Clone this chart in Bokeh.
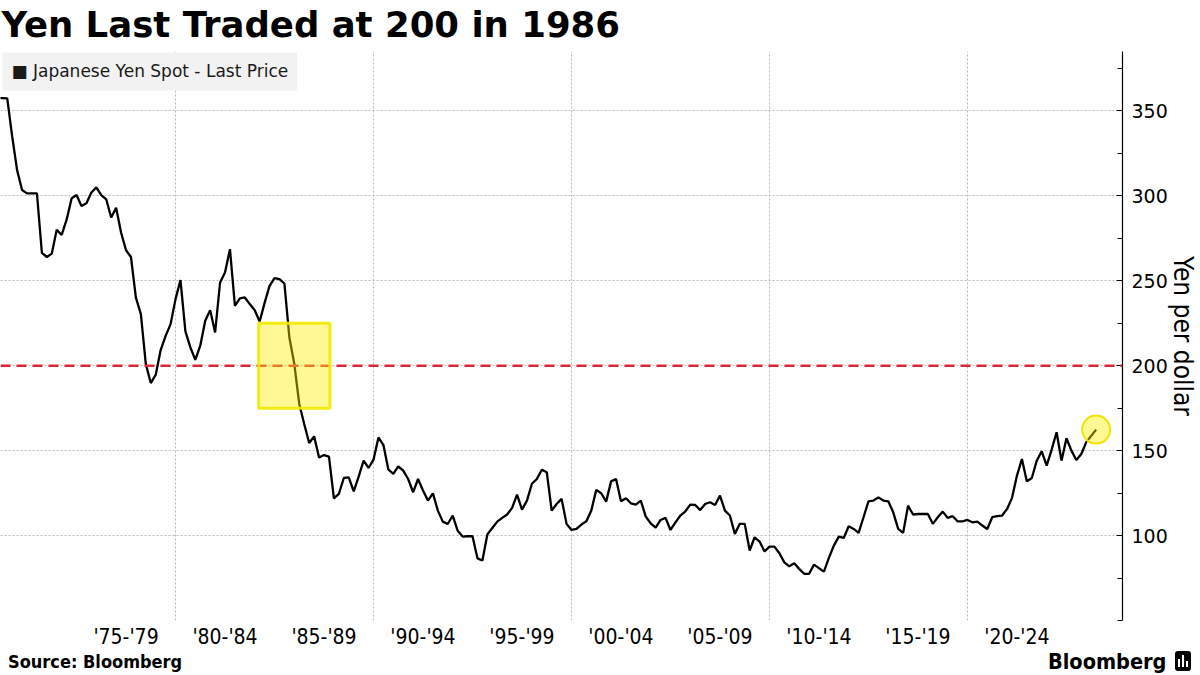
from bokeh.plotting import figure
from bokeh.layouts import column
from bokeh.models import FixedTicker, Span, BoxAnnotation, Label, Range1d, Div
from bokeh.core.properties import value
from bokeh.embed import file_html
from bokeh.resources import INLINE

# USD/JPY, quarter-end closes starting with Q4 1970 (yen per dollar)
FIRST_QUARTER_END = 1971.0
yen_1970s = [357.6,
             357.5, 357.4, 335.0, 315.0,
             303.5, 301.5, 301.5, 301.5,
             266.5, 264.0, 266.0, 280.0,
             277.0, 286.0, 298.5, 300.5,
             294.0, 295.7, 302.0, 305.0,
             300.4, 298.0, 287.3, 293.0,
             278.4, 268.0, 264.0, 240.0,
             230.4, 201.0, 189.8, 194.7,
             209.2, 217.6, 224.5, 239.2]
yen_1980s = [250.4, 220.2, 210.8, 203.5,
             211.8, 226.5, 232.7, 219.6,
             249.0, 254.9, 268.6, 235.3,
             239.6, 240.2, 236.3, 232.7,
             226.0, 237.0, 247.0, 251.6,
             251.0, 248.4, 216.7, 201.0,
             177.5, 165.7, 154.5, 158.4,
             146.0, 147.4, 146.5, 121.9,
             124.5, 133.9, 134.3, 126.0,
             134.7, 144.1, 139.8, 144.7]
yen_1990s = [157.8, 153.3, 138.9, 136.3,
             140.8, 138.2, 133.3, 125.5,
             133.3, 126.5, 120.6, 124.9,
             114.7, 108.2, 106.8, 111.8,
             102.9, 99.4, 99.6, 99.6,
             86.6, 85.3, 100.6, 104.5,
             108.2, 110.4, 112.4, 116.3,
             124.1, 115.3, 120.6, 130.5,
             133.3, 138.8, 137.3, 114.7,
             118.6, 121.6, 106.9, 103.3]
yen_2000s = [103.9, 106.5, 108.4, 114.7,
             126.9, 124.9, 120.0, 131.9,
             133.3, 120.2, 122.0, 119.0,
             118.2, 120.6, 111.2, 107.2,
             104.7, 109.2, 110.4, 103.3,
             107.8, 111.8, 114.3, 118.2,
             118.0, 115.0, 118.6, 119.6,
             118.0, 123.5, 114.7, 111.8,
             101.0, 106.9, 106.9, 91.2,
             99.0, 96.5, 90.6, 93.5]
yen_2010s = [93.5, 89.6, 84.2, 81.9,
             83.7, 80.4, 77.5, 77.5,
             82.9, 80.8, 78.8, 86.9,
             94.1, 99.4, 98.6, 105.5,
             103.9, 101.6, 110.8, 120.2,
             120.6, 122.5, 120.6, 120.2,
             113.7, 103.9, 101.6, 117.6,
             112.4, 112.7, 112.7, 112.7,
             106.9, 110.8, 114.1, 110.4,
             111.4, 108.4, 108.4, 109.2]
yen_2020s = [107.8, 108.2, 105.9, 103.9,
             110.8, 111.4, 111.8, 115.7,
             122.2, 135.3, 145.1, 131.9,
             133.9, 144.1, 149.6, 141.2,
             150.5, 160.8, 144.1, 157.3,
             150.0, 144.5, 148.0, 155.0]
latest_year = 2026.5
latest_value = 162.4

yen_quarterly = yen_1970s + yen_1980s + yen_1990s + yen_2000s + yen_2010s + yen_2020s
quarter_ends = [FIRST_QUARTER_END + 0.25 * i for i in range(len(yen_quarterly))]
years = quarter_ends + [latest_year]
yen = yen_quarterly + [latest_value]

# five-year period labels, centred on each period
period_starts = [1975, 1980, 1985, 1990, 1995, 2000, 2005, 2010, 2015, 2020]
period_labels = ["'75-'79", "'80-'84", "'85-'89", "'90-'94", "'95-'99",
                 "'00-'04", "'05-'09", "'10-'14", "'15-'19", "'20-'24"]
decade_lines = [1980, 1990, 2000, 2010, 2020]
y_ticks = [100, 150, 200, 250, 300, 350]

threshold = 200
last_200_year = 1986
box_half_width = 1.8
box_half_height = 25

title_text = "Yen Last Traded at 200 in 1986"
legend_text = "Japanese Yen Spot - Last Price"
source_text = "Source: Bloomberg"
wordmark_text = "Bloomberg"

W = 1200
HEADER_H, CHART_H, FOOTER_H = 51, 600, 24
FRAME_H = 570
Y_MIN, Y_MAX = 50, 385

# ---- header with the headline
header = figure(width=W, height=HEADER_H, x_range=Range1d(0, W),
                y_range=Range1d(HEADER_H, 0), x_axis_location=None,
                y_axis_location=None, output_backend="svg",
                toolbar_location=None, min_border=0)
header.outline_line_color = None
header.grid.visible = False
header.text(x=[1], y=[24], text=[title_text], text_font=value("DejaVu Sans"),
            text_font_style="bold", text_font_size="35.5px",
            text_baseline="alphabetic", text_color="black")

# ---- main chart
p = figure(width=W, height=CHART_H,
           x_range=Range1d(1971.16, 2027.83), y_range=Range1d(Y_MIN, Y_MAX),
           y_axis_location="right", output_backend="svg", toolbar_location=None,
           min_border_left=0, min_border_right=78, min_border_top=0,
           min_border_bottom=CHART_H - FRAME_H)
p.outline_line_color = None
p.background_fill_color = "white"

mids = [s + 2.5 for s in period_starts]
p.xaxis.ticker = FixedTicker(ticks=mids, minor_ticks=[])
p.xaxis.major_label_overrides = {m: lab for m, lab in zip(mids, period_labels)}
p.xaxis.axis_line_color = None
p.xaxis.major_tick_line_color = None
p.xaxis.minor_tick_line_color = None
p.xaxis.major_tick_in = 0
p.xaxis.major_tick_out = 0
p.xaxis.major_label_standoff = 4
p.xaxis.major_label_text_font = "DejaVu Sans Condensed"
p.xaxis.major_label_text_font_size = "21px"
p.xaxis.major_label_text_color = "black"

p.yaxis.ticker = FixedTicker(ticks=y_ticks, minor_ticks=list(range(50, 400, 25)))
p.yaxis.axis_line_color = "black"
p.yaxis.axis_line_width = 1.2
p.yaxis.major_tick_in = 6
p.yaxis.major_tick_out = 0
p.yaxis.minor_tick_in = 5
p.yaxis.minor_tick_out = 0
p.yaxis.major_tick_line_color = "black"
p.yaxis.minor_tick_line_color = "black"
p.yaxis.major_label_standoff = 9
p.yaxis.major_label_text_font = "DejaVu Sans"
p.yaxis.major_label_text_font_size = "19px"
p.yaxis.major_label_text_color = "black"
p.yaxis.axis_label = "Yen per dollar"
p.yaxis.axis_label_text_font = "DejaVu Sans Condensed"
p.yaxis.axis_label_text_font_size = "26px"
p.yaxis.axis_label_text_font_style = "normal"
p.yaxis.axis_label_text_color = "black"
p.yaxis.axis_label_standoff = -3

p.xgrid.ticker = FixedTicker(ticks=decade_lines)
p.ygrid.ticker = FixedTicker(ticks=[50] + y_ticks)
for g in (p.xgrid, p.ygrid):
    g.grid_line_color = "#b8b8b8"
    g.grid_line_dash = "2 2"
    g.grid_line_width = 1

p.line(years, yen, line_color="black", line_width=2.3)

p.add_layout(Span(location=threshold, dimension="width", line_color="#e3223c",
                  line_dash="10 6", line_width=2.6))
p.add_layout(BoxAnnotation(left=last_200_year - box_half_width,
                           right=last_200_year + box_half_width,
                           bottom=threshold - box_half_height,
                           top=threshold + box_half_height,
                           fill_color="#ffee00", fill_alpha=0.42,
                           line_color="#f2ea00", line_width=3, line_alpha=0.9))
p.scatter([latest_year], [latest_value], size=28, fill_color="#ffee00",
          fill_alpha=0.42, line_color="#efe500", line_width=2)

# legend box in the top-left corner of the frame
p.add_layout(Label(x=2, y=Y_MAX - 1 * (Y_MAX - Y_MIN) / FRAME_H,
                   x_units="screen", y_units="data",
                   text="\u25a0 " + legend_text,
                   text_baseline="top", text_font="DejaVu Sans",
                   text_font_size="17px", text_color="#1a1a1a",
                   background_fill_color="#f2f2f2", background_fill_alpha=1,
                   padding=9))

# ---- footer: source note, wordmark and terminal icon
font = "font-family:'DejaVu Sans Condensed',sans-serif;font-weight:bold;color:#000;white-space:nowrap;"
bar = "position:absolute;width:2px;background:#fff;"
footer_html = (
    f'<div style="position:relative;width:{W}px;height:{FOOTER_H}px;">'
    f'<span style="position:absolute;left:8px;top:2px;font-size:18px;line-height:18px;{font}">{source_text}</span>'
    f'<span style="position:absolute;left:1048px;top:0px;font-size:21.5px;line-height:21.5px;{font}">{wordmark_text}</span>'
    '<span style="position:absolute;left:1175px;top:0px;width:16px;height:20px;background:#000;border-radius:3px;">'
    f'<span style="{bar}left:3px;top:8px;height:8px;"></span>'
    f'<span style="{bar}left:7px;top:4px;height:12px;"></span>'
    f'<span style="{bar}left:11px;top:10px;height:6px;"></span>'
    '</span></div>'
)
footer = Div(text=footer_html, width=W, height=FOOTER_H, margin=0)

layout = column(header, p, footer, spacing=0)
open("out.html", "w").write(file_html(layout, INLINE))
